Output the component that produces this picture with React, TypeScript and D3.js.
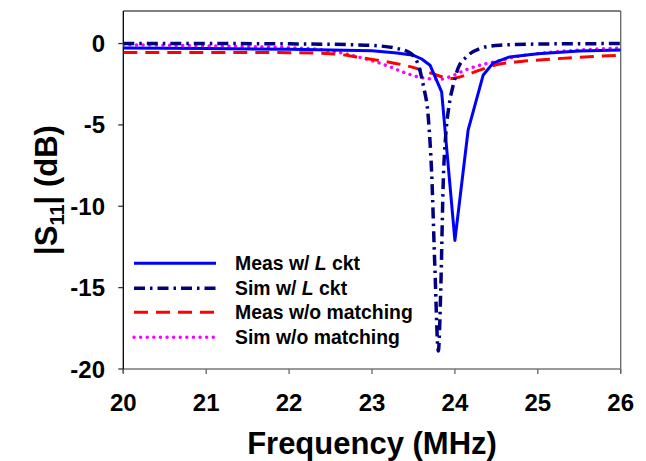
import React from "react";
import * as d3 from "d3";

const xTicks = [20, 21, 22, 23, 24, 25, 26];
const yTicks = [0, -5, -10, -15, -20];

// Meas w/ L ckt
const measLFreq = [20, 21, 22, 22.5, 23, 23.3, 23.5, 23.6, 23.7, 23.84, 24.0, 24.16, 24.34, 24.46, 24.66, 25, 25.5, 26];
const measLdB = [-0.27, -0.3, -0.35, -0.4, -0.45, -0.58, -0.72, -0.95, -1.33, -2.97, -12.1, -5.3, -1.95, -1.2, -0.82, -0.62, -0.46, -0.4];

// Sim w/ L ckt
const simLFreq = [20, 21, 22, 22.8, 23.1, 23.3, 23.45, 23.55, 23.62, 23.68, 23.72, 23.76, 23.8, 23.83, 23.86, 23.89, 23.93, 23.98, 24.04, 24.14, 24.3, 24.54, 25, 25.5, 26];
const simLdB = [0, 0, -0.02, -0.08, -0.15, -0.3, -0.55, -1.2, -2.6, -4.6, -8.0, -14.0, -18.9, -15.0, -8.4, -5.6, -3.8, -2.55, -1.5, -0.82, -0.31, -0.1, -0.03, -0.01, 0];

// Meas w/o matching
const measWoFreq = [20, 21, 22, 22.5, 22.85, 23.1, 23.46, 23.7, 23.96, 24.18, 24.5, 24.8, 25.1, 25.5, 26];
const measWodB = [-0.55, -0.55, -0.56, -0.62, -0.85, -1.05, -1.42, -1.8, -2.15, -1.85, -1.3, -1.1, -0.98, -0.84, -0.72];

// Sim w/o matching
const simWoFreq = [20, 21, 22, 22.5, 22.8, 23.0, 23.2, 23.4, 23.62, 23.82, 23.96, 24.14, 24.3, 24.5, 24.7, 25.06, 25.5, 26];
const simWodB = [-0.08, -0.14, -0.25, -0.45, -0.78, -1.05, -1.4, -1.8, -2.12, -2.2, -2.0, -1.6, -1.33, -1.1, -0.85, -0.58, -0.4, -0.27];

const seriesNames = ["Meas w/ L ckt", "Sim w/ L ckt", "Meas w/o matching", "Sim w/o matching"];

const W = 646;
const H = 461;
const left = 123.3;
const right = 620.7;
const top = 11;
const bottom = 369;

export default function App() {
  const x = d3.scaleLinear().domain([20, 26]).range([left, right]);
  const y = d3.scaleLinear().domain([-20, 2]).range([bottom, top]);

  const mk = (fx: number[], fy: number[], curve: d3.CurveFactory) =>
    d3
      .line<number>()
      .x((_, i) => x(fx[i]))
      .y((d) => y(d))
      .curve(curve)(fy) || "";

  const styles = [
    { color: "#0000FF", dash: "", width: 3, cap: "butt" as const },
    { color: "#000080", dash: "11,5,2.5,5", width: 3.5, cap: "butt" as const },
    { color: "#FF0000", dash: "14,8", width: 3, cap: "butt" as const },
    { color: "#FF00FF", dash: "0.1,6.5", width: 3.4, cap: "round" as const },
  ];

  const paths = [
    mk(measLFreq, measLdB, d3.curveLinear),
    mk(simLFreq, simLdB, d3.curveMonotoneX),
    mk(measWoFreq, measWodB, d3.curveMonotoneX),
    mk(simWoFreq, simWodB, d3.curveMonotoneX),
  ];

  const drawOrder = [3, 2, 0, 1];
  const legendY = [263.3, 288.3, 312.3, 337.3];
  const font = "Arial, 'Liberation Sans', sans-serif";

  return (
    <svg width={W} height={H} style={{ position: "absolute", left: 0, top: 0 }} fontFamily={font}>
      <rect x={0} y={0} width={W} height={H} fill="#fff" />
      <defs>
        <clipPath id="plotclip">
          <rect x={left} y={top} width={right - left} height={bottom - top} />
        </clipPath>
      </defs>
      {/* frame */}
      <line x1={left} x2={right} y1={top} y2={top} stroke="#555" strokeWidth={1.3} />
      <line x1={right} x2={right} y1={top} y2={bottom + 4} stroke="#666" strokeWidth={1.3} />
      <line x1={left} x2={right} y1={bottom} y2={bottom} stroke="#777" strokeWidth={1.3} />
      <line x1={left} x2={left} y1={top} y2={bottom + 4} stroke="#000" strokeWidth={1.3} />
      {/* x ticks */}
      {xTicks.map((t) => (
        <g key={"x" + t}>
          <line x1={x(t)} x2={x(t)} y1={bottom} y2={bottom + 5} stroke="#666" strokeWidth={1.3} />
          <text x={x(t)} y={411} textAnchor="middle" fontSize={24} fontWeight="bold">
            {t}
          </text>
        </g>
      ))}
      {yTicks.map((t) => (
        <g key={"y" + t}>
          <line x1={left - 5} x2={left} y1={y(t)} y2={y(t)} stroke="#333" strokeWidth={1.3} />
          <text x={105} y={y(t) + 8.5} textAnchor="end" fontSize={24} fontWeight="bold">
            {t}
          </text>
        </g>
      ))}
      {/* axis titles */}
      <text x={(left + right) / 2} y={454} textAnchor="middle" fontSize={31} fontWeight="bold">
        Frequency (MHz)
      </text>
      <text
        transform={`translate(57, 190) rotate(-90)`}
        textAnchor="middle"
        fontSize={31}
        fontWeight="bold"
      >
        |S<tspan fontSize={20} dy={7}>11</tspan>
        <tspan dy={-7}>| (dB)</tspan>
      </text>
      {/* series */}
      <g clipPath="url(#plotclip)">
        {drawOrder.map((i) => (
          <path
            key={"s" + i}
            d={paths[i]}
            fill="none"
            stroke={styles[i].color}
            strokeWidth={styles[i].width}
            strokeDasharray={styles[i].dash || undefined}
            strokeLinecap={styles[i].cap}
            strokeLinejoin="round"
          />
        ))}
      </g>
      {/* legend */}
      {seriesNames.map((name, i) => (
        <g key={"l" + i}>
          <line
            x1={134}
            x2={216}
            y1={legendY[i]}
            y2={legendY[i]}
            stroke={styles[i].color}
            strokeWidth={styles[i].width}
            strokeDasharray={styles[i].dash || undefined}
            strokeLinecap={styles[i].cap}
          />
          <text x={235} y={legendY[i] + 7} fontSize={19.4} fontWeight="bold">
            {name.includes(" L ") ? (
              <>
                {name.split(" L ")[0] + " "}
                <tspan fontStyle="italic">L</tspan>
                {" " + name.split(" L ")[1]}
              </>
            ) : (
              name
            )}
          </text>
        </g>
      ))}
    </svg>
  );
}
